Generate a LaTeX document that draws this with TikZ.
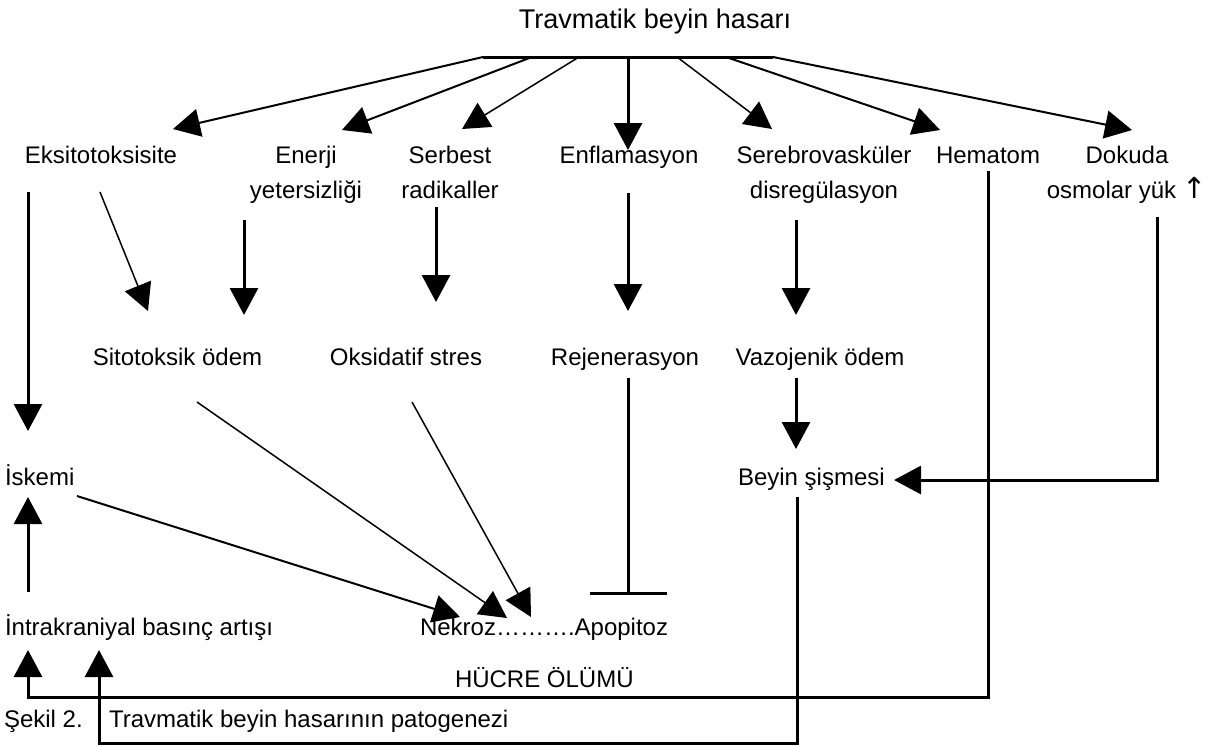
\documentclass[tikz,border=0pt]{standalone}
\usepackage{fontspec}
\setmainfont{Liberation Sans}
\newfontfamily\arrowfont{DejaVu Sans}
\usetikzlibrary{arrows.meta}
\begin{document}
\begin{tikzpicture}[x=0.5pt,y=-0.5pt,
  lbl/.style={inner sep=0pt, outer sep=0pt, font=\fontsize{12}{17.5}\selectfont, align=center, anchor=base},
  lblw/.style={lbl, anchor=base west},
  tip/.style={-{Triangle[length=13.5pt,width=14pt]}},
  wA/.style={line width=1.5pt},
  wB/.style={line width=1pt},
  wC/.style={line width=0.75pt},
  inhib/.style={line width=1.5pt, -{Bar[width=38.5pt,line width=1.5pt]}}]
\useasboundingbox (0,0) rectangle (1208,745);

% texts
\node[lbl, font=\fontsize{13.5}{16}\selectfont] (tbh) at (655,28) {Travmatik beyin hasarı};
\node[lbl] (eks)  at (101,163) {Eksitotoksisite};
\node[lbl] (ener) at (306,198) {Enerji\\yetersizliği};
\node[lbl] (serb) at (450,198) {Serbest\\radikaller};
\node[lbl] (enfl) at (629,163) {Enflamasyon};
\node[lbl] (sere) at (824,198) {Serebrovasküler\\disregülasyon};
\node[lbl] (hem)  at (988,163) {Hematom};
\node[lbl] (dok)  at (1127,198) {Dokuda\\osmolar yük {\arrowfont\fontsize{14.5}{17.5}\selectfont ↑}};
\node[lbl] (sito) at (177.5,365) {Sitotoksik ödem};
\node[lbl] (oks)  at (406,365) {Oksidatif stres};
\node[lbl] (rej)  at (625,365) {Rejenerasyon};
\node[lbl] (vaz)  at (820,365) {Vazojenik ödem};
\node[lblw] (isk) at (5,485) {İskemi};
\node[lblw] (bey) at (738,485) {Beyin şişmesi};
\node[lblw] (intr) at (5,635) {İntrakraniyal basınç artışı};
\node[lblw] (nek) at (420,635) {Nekroz……….Apopitoz};
\node[lblw] (hucre) at (455,687) {HÜCRE ÖLÜMÜ};
\node[lblw] (sek) at (4,727) {Şekil 2.};
\node[lblw] (cap) at (109,727) {Travmatik beyin hasarının patogenezi};

% fan from the injury
\coordinate (b1) at (483,57);
\coordinate (b2) at (532,57);
\coordinate (b3) at (579,57);
\coordinate (b4) at (628,57);
\coordinate (b5) at (677,57);
\coordinate (b6) at (726,57);
\coordinate (b7) at (773,57);
\draw[wA] (b1) -- (b7);
\coordinate (eksT) at (173,129);
\coordinate (enerT) at (342,130);
\coordinate (serbT) at (462,129);
\coordinate (enflT) at (628,150);
\coordinate (sereT) at (772,129);
\coordinate (hemT) at (940,130);
\coordinate (dokT) at (1132,130);
\draw[wB,tip] (b1) -- (eksT);
\draw[wB,tip] (b2) -- (enerT);
\draw[wC,tip] (b3) -- (serbT);
\draw[wA,tip] (b4) -- (enflT);
\draw[wC,tip] (b5) -- (sereT);
\draw[wB,tip] (b6) -- (hemT);
\draw[wB,tip] (b7) -- (dokT);

% row 1 -> row 2
\coordinate (eksA) at (28,192);
\coordinate (iskT) at (28,431);
\draw[wA,tip] (eksA) -- (iskT);
\coordinate (eksB) at (100,192);
\coordinate (sitoT1) at (148,311);
\draw[wC,tip] (eksB) -- (sitoT1);
\coordinate (enerB) at (244,220);
\coordinate (sitoT2) at (244,315);
\draw[wA,tip] (enerB) -- (sitoT2);
\coordinate (serbB) at (436,207);
\coordinate (oksT) at (436,302);
\draw[wA,tip] (serbB) -- (oksT);
\coordinate (enflB) at (628,193);
\coordinate (rejT) at (628,311);
\draw[wA,tip] (enflB) -- (rejT);
\coordinate (sereB) at (796,220);
\coordinate (vazT) at (796,315);
\draw[wA,tip] (sereB) -- (vazT);

% row 2 -> lower
\coordinate (vazB) at (796,378);
\coordinate (beyT) at (796,449);
\draw[wA,tip] (vazB) -- (beyT);
\coordinate (rejB) at (628,378);
\coordinate (apoT) at (628,595);
\draw[inhib] (rejB) -- (apoT);
\coordinate (iskB) at (77,496);
\coordinate (nekT1) at (460,617);
\draw[wB,tip] (iskB) -- (nekT1);
\coordinate (sitoB) at (197,402);
\coordinate (nekT2) at (507,618);
\draw[wC,tip] (sitoB) -- (nekT2);
\coordinate (oksB) at (412,402);
\coordinate (nekT3) at (531,617);
\draw[wC,tip] (oksB) -- (nekT3);

% feedback loops
\coordinate (intrA) at (28,592);
\coordinate (iskU) at (28,497);
\draw[wA,tip] (intrA) -- (iskU);
\coordinate (hemB) at (988,171);
\coordinate (intrT1) at (28,650);
\draw[wA,tip] (hemB) -- (988,697) -- (28,697) -- (intrT1);
\coordinate (dokB) at (1157,217);
\coordinate (beyR) at (894,480);
\draw[wA,tip] (dokB) -- (1157,480) -- (beyR);
\coordinate (beyB) at (797,497);
\coordinate (intrT2) at (99,650);
\draw[wA,tip] (beyB) -- (797,743) -- (99,743) -- (intrT2);
\end{tikzpicture}
\end{document}
